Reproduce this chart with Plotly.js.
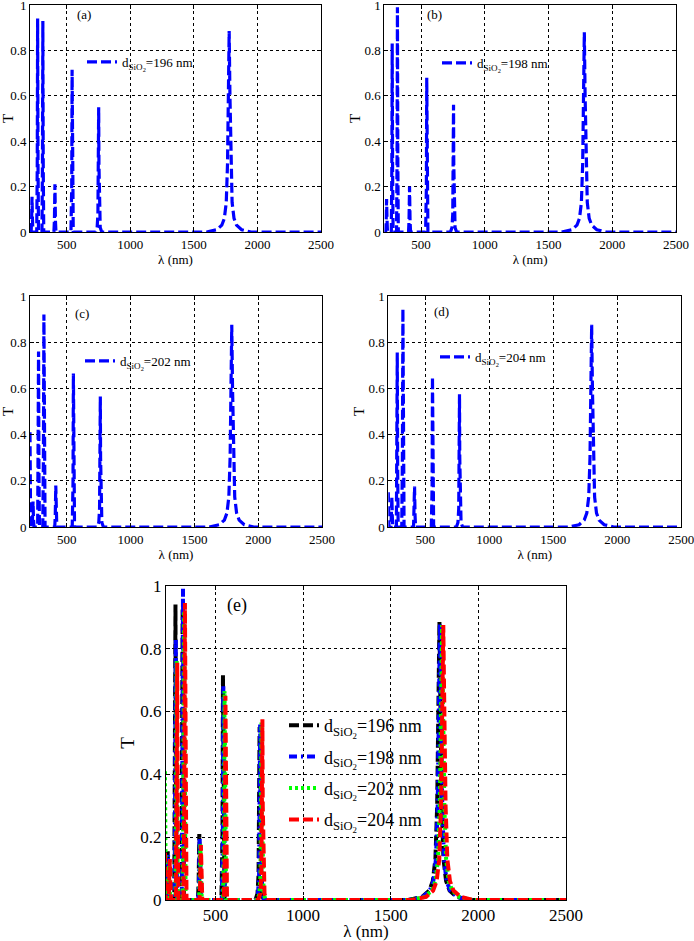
<!DOCTYPE html>
<html><head><meta charset="utf-8">
<script src="https://cdn.plot.ly/plotly-3.0.1.min.js"></script>
<style>html,body{margin:0;padding:0;background:#fff}#chart{width:694px;height:941px}</style>
</head><body><div id="chart"></div><script>
// ---- data ----
const lam196 = [212,221,225,228,231,235, 265,269,272,275,279, 306,310,313,316,320, 400,404,408,412,416, 534,540,543,546,552, 728,740,746,750,752,754,758,764,776, 1600,1680,1720,1740,1755,1765,1772,1778,1784,1791,1801,1816,1836,1876,1950,2500];
const T196   = [0,0,0.06,0.155,0.06,0, 0,0.3,0.94,0.3,0, 0,0.3,0.93,0.3,0, 0,0.05,0.21,0.05,0, 0,0.2,0.715,0.2,0, 0,0.02,0.08,0.3,0.55,0.3,0.08,0.02,0, 0,0.01,0.03,0.06,0.13,0.3,0.6,0.885,0.6,0.3,0.13,0.06,0.03,0.01,0,0];

const lam198 = [212,223,227,230,233,237, 267,271,274,277,281, 308,312,315,318,322, 402,406,410,414,418, 536,542,545,548,554, 731,743,749,753,755,757,761,767,779, 1603,1683,1723,1743,1758,1768,1775,1781,1787,1794,1804,1819,1839,1879,1953,2500];
const T198   = [0,0,0.06,0.145,0.06,0, 0,0.27,0.83,0.27,0, 0,0.32,0.99,0.32,0, 0,0.05,0.2,0.05,0, 0,0.19,0.68,0.19,0, 0,0.02,0.08,0.3,0.56,0.3,0.08,0.02,0, 0,0.01,0.03,0.06,0.13,0.3,0.6,0.88,0.6,0.3,0.13,0.06,0.03,0.01,0,0];

const lam202 = [212,214,217, 229,233,236,239,243, 272,276,279,282,286, 312,317,321,325,330, 406,410,414,418,422, 543,549,552,555,561, 739,751,757,761,763,765,769,775,787, 1615,1695,1735,1755,1770,1780,1787,1793,1799,1806,1816,1831,1851,1891,1965,2500];
const T202   = [0.41,0.15,0, 0,0.04,0.11,0.04,0, 0,0.25,0.76,0.25,0, 0,0.3,0.92,0.3,0, 0,0.05,0.18,0.05,0, 0,0.19,0.665,0.19,0, 0,0.02,0.08,0.3,0.565,0.3,0.08,0.02,0, 0,0.01,0.03,0.06,0.13,0.3,0.6,0.875,0.6,0.3,0.13,0.06,0.03,0.01,0,0];

const lam204 = [212,214,217, 233,237,240,243,247, 275,279,282,285,289, 317,322,326,330,335, 409,413,417,421,425, 548,554,557,560,566, 744,756,762,766,768,770,774,780,792, 1622,1702,1742,1762,1777,1787,1794,1800,1806,1813,1823,1838,1858,1898,1972,2500];
const T204   = [0.15,0.05,0, 0,0.05,0.13,0.05,0, 0,0.25,0.755,0.25,0, 0,0.3,0.945,0.3,0, 0,0.05,0.175,0.05,0, 0,0.18,0.65,0.18,0, 0,0.02,0.08,0.3,0.575,0.3,0.08,0.02,0, 0,0.01,0.03,0.06,0.13,0.3,0.6,0.875,0.6,0.3,0.13,0.06,0.03,0.01,0,0];

const seriesNames = [
  'd<sub>SiO<sub>2</sub></sub>=196 nm',
  'd<sub>SiO<sub>2</sub></sub>=198 nm',
  'd<sub>SiO<sub>2</sub></sub>=202 nm',
  'd<sub>SiO<sub>2</sub></sub>=204 nm'
];
const panelLabels = ['(a)','(b)','(c)','(d)','(e)'];
const xTicks = [500,1000,1500,2000,2500];
const xTickText = ['500','1000','1500','2000','2500'];
const yTicks = [0,0.2,0.4,0.6,0.8,1];
const yTickText = ['0','0.2','0.4','0.6','0.8','1'];
const xTitle = 'λ (nm)';
const yTitle = 'T';

// ---- layout helpers ----
const W = 694, H = 941;
const FONT = '"Liberation Serif", "Times New Roman", serif';
const px = v => v / W;
const py = v => 1 - v / H;

function xAxis(l, r, anchor, fs, xmin) {
  return {
    domain: [px(l), px(r)], anchor: anchor, range: [xmin, 2500],
    tickvals: xTicks, ticktext: xTickText, ticklabeloverflow: 'allow',
    showline: true, mirror: 'ticks', linecolor: '#000', linewidth: 1,
    ticks: 'inside', ticklen: 4, tickcolor: '#000',
    showgrid: true, gridcolor: '#000', gridwidth: 1, griddash: '3px,3px',
    zeroline: false, tickfont: {family: FONT, size: fs, color: '#000'},
    title: {text: xTitle, font: {family: FONT, size: fs, color: '#000'}, standoff: 3}
  };
}
function yAxis(b, t, anchor, fs) {
  return {
    domain: [py(b), py(t)], anchor: anchor, range: [0, 1],
    tickvals: yTicks, ticktext: yTickText, ticklabeloverflow: 'allow',
    showline: true, mirror: 'ticks', linecolor: '#000', linewidth: 1,
    ticks: 'inside', ticklen: 4, tickcolor: '#000',
    showgrid: true, gridcolor: '#000', gridwidth: 1, griddash: '3px,3px',
    zeroline: false, tickfont: {family: FONT, size: fs, color: '#000'},
    title: {text: yTitle, font: {family: FONT, size: fs + 2, color: '#000'}, standoff: 0}
  };
}

const blue = '#0000ff';
const single = [
  {x: lam196, y: T196, name: seriesNames[0], xa: 'x',  ya: 'y',  lg: 'legend'},
  {x: lam198, y: T198, name: seriesNames[1], xa: 'x2', ya: 'y2', lg: 'legend2'},
  {x: lam202, y: T202, name: seriesNames[2], xa: 'x3', ya: 'y3', lg: 'legend3'},
  {x: lam204, y: T204, name: seriesNames[3], xa: 'x4', ya: 'y4', lg: 'legend4'}
];
const traces = single.map(s => ({
  type: 'scatter', mode: 'lines', x: s.x, y: s.y, name: s.name,
  xaxis: s.xa, yaxis: s.ya, legend: s.lg, showlegend: true,
  line: {color: blue, width: 3.2, dash: '10px,4px'}
}));

const combo = [
  {x: lam196, y: T196, color: '#000000', dash: '10px,4px'},
  {x: lam198, y: T198, color: '#0000ff', dash: '8px,4px,2px,4px'},
  {x: lam202, y: T202, color: '#00ff00', dash: '3px,3px'},
  {x: lam204, y: T204, color: '#ff0000', dash: '10px,4px'}
];
combo.forEach((c, i) => traces.push({
  type: 'scatter', mode: 'lines', x: c.x, y: c.y, name: seriesNames[i],
  xaxis: 'x5', yaxis: 'y5', legend: 'legend5', legendgroup: 'g' + i, showlegend: true,
  line: {color: c.color, width: 4, dash: c.dash}
}));

function legendAt(L, top, fs) {
  return {x: px(L), y: py(top), xref: 'paper', yref: 'paper', xanchor: 'left', yanchor: 'top',
    bgcolor: 'rgba(0,0,0,0)', borderwidth: 0, font: {family: FONT, size: fs, color: '#000'},
    traceorder: 'grouped', tracegroupgap: 5};
}

// white legend boxes behind the data (hide the grid like the original legend boxes)
const legendBoxes = [[84,53,205,73],[439,54,560,74],[82,351,198,372],[437,346,556,368],[282,714,421,835]];
const shapes = legendBoxes.map(b => ({
  type: 'rect', xref: 'paper', yref: 'paper', layer: 'below',
  x0: px(b[0]), x1: px(b[2]), y0: py(b[3]), y1: py(b[1]),
  fillcolor: '#ffffff', line: {width: 0}
}));

const labelPos = [[84,15,13],[434,15,13],[82,313,13],[442,312,13],[237,605,18]];
const annotations = panelLabels.map((t, i) => ({
  text: t, xref: 'paper', yref: 'paper', x: px(labelPos[i][0]), y: py(labelPos[i][1]),
  xanchor: 'center', yanchor: 'middle', showarrow: false,
  font: {family: FONT, size: labelPos[i][2], color: '#000'}
}));

const layout = {
  width: W, height: H, margin: {l: 0, r: 0, t: 0, b: 0},
  font: {family: FONT, color: '#000'},
  paper_bgcolor: '#fff', plot_bgcolor: '#fff', showlegend: true,
  xaxis:  xAxis(30, 321, 'y', 13, 212),   yaxis:  yAxis(232, 5, 'x', 13),
  xaxis2: xAxis(384.3, 676, 'y2', 13, 212), yaxis2: yAxis(232, 5, 'x2', 13),
  xaxis3: xAxis(30, 322, 'y3', 13, 212),  yaxis3: yAxis(527, 296, 'x3', 13),
  xaxis4: xAxis(388.3, 681.3, 'y4', 13, 212), yaxis4: yAxis(527, 296, 'x4', 13),
  xaxis5: xAxis(166, 566, 'y5', 17, 218), yaxis5: yAxis(900, 585.7, 'x5', 17),
  legend:  legendAt(82, 47, 13),
  legend2: legendAt(437, 48, 13),
  legend3: legendAt(80, 346, 13),
  legend4: legendAt(435, 342, 13),
  legend5: legendAt(284, 707, 18),
  shapes: shapes,
  annotations: annotations
};

Plotly.newPlot('chart', traces, layout, {displayModeBar: false, staticPlot: true});
</script></body></html>
